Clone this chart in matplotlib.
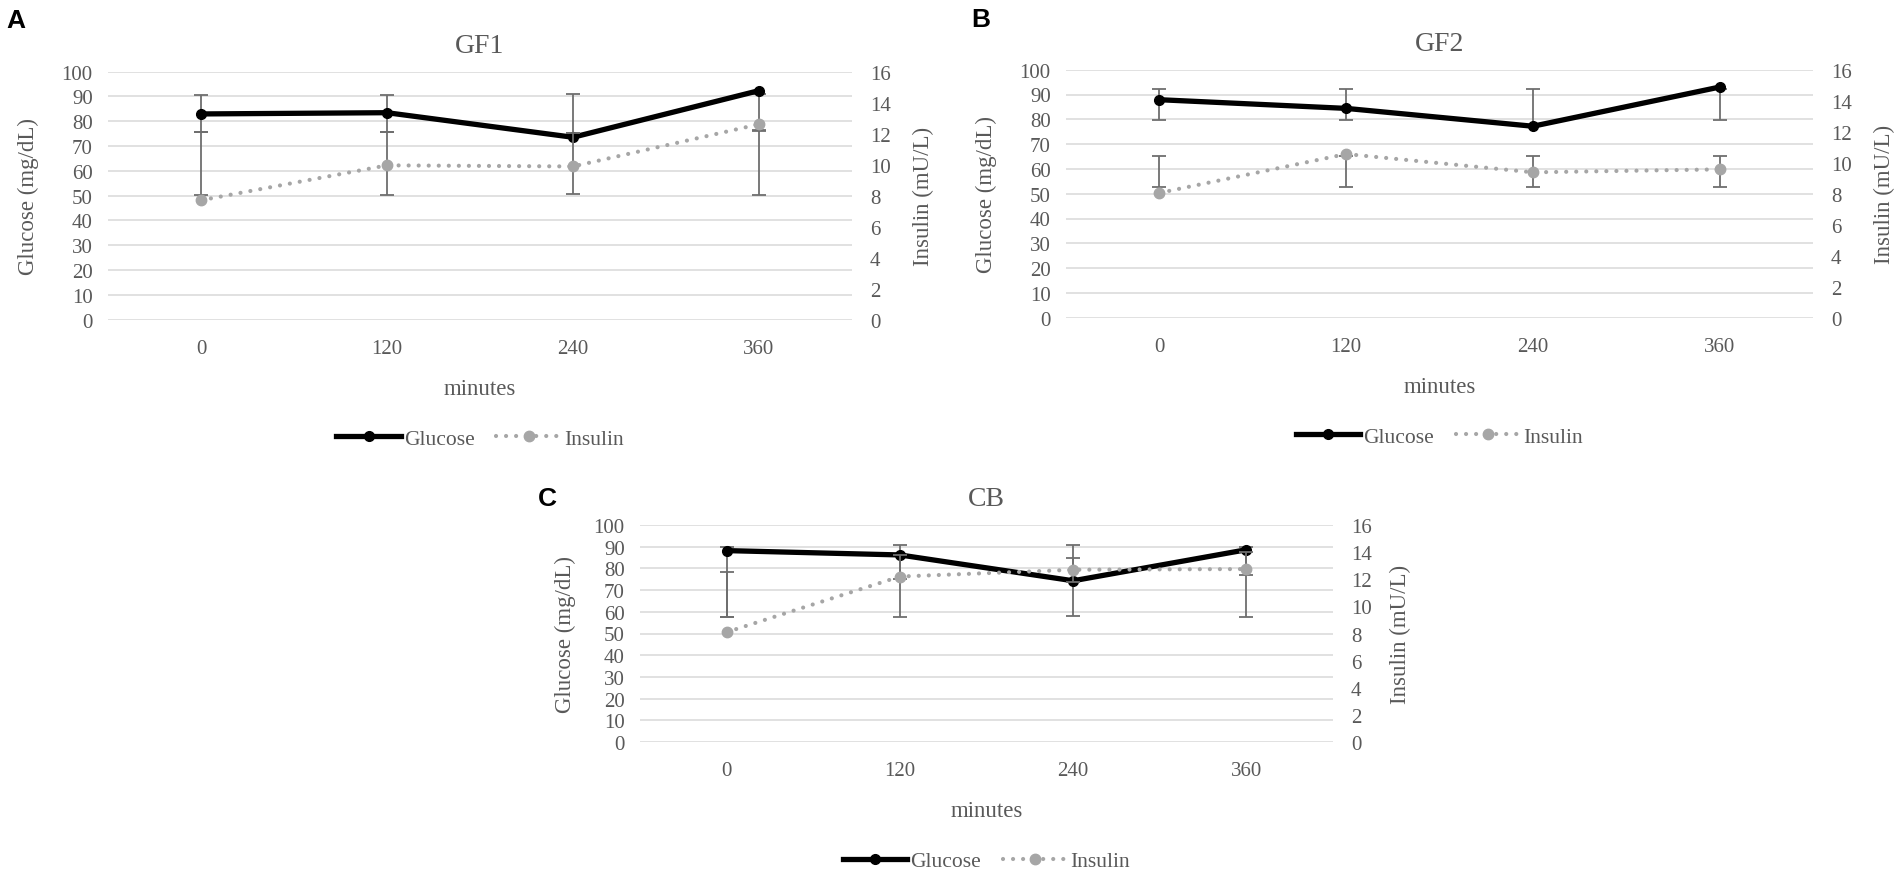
import matplotlib
matplotlib.use("Agg")
import matplotlib.pyplot as plt

# data
minutes = ["0", "120", "240", "360"]

gf1_glucose = [82.9, 83.4, 73.5, 92.3]
gf1_insulin = [7.7, 9.95, 9.88, 12.6]
gf1_glu_lo = [75.6, 75.6, 75.4, 76.2]
gf1_glu_hi = [90.7, 90.7, 90.9, 90.9]
gf1_ins_lo = [8.06, 8.06, 8.1, 8.06]
gf1_ins_hi = [12.1, 12.1, 12.05, 12.2]

gf2_glucose = [87.9, 84.4, 77.2, 93.0]
gf2_insulin = [8.05, 10.56, 9.38, 9.57]
gf2_glu_lo = [79.7, 79.7, 77.6, 79.8]
gf2_glu_hi = [92.2, 92.2, 92.2, 92.2]
gf2_ins_lo = [8.42, 8.42, 8.42, 8.42]
gf2_ins_hi = [10.42, 10.42, 10.42, 10.42]

cb_glucose = [88.2, 86.2, 74.3, 88.6]
cb_insulin = [8.1, 12.2, 12.7, 12.75]
cb_glu_lo = [57.5, 57.7, 57.9, 57.8]
cb_glu_hi = [89.9, 90.8, 90.9, 89.8]
cb_ins_lo = [9.2, 12.0, 11.8, 12.3]
cb_ins_hi = [12.5, 13.8, 13.6, 14.0]

TXT = "#595959"
ERR = "#6e6e6e"
SERIF = ["Liberation Serif", "DejaVu Serif"]
plt.rcParams["font.family"] = SERIF

fig = plt.figure(figsize=(18.94, 8.79), dpi=100)
W, H = 1894, 879


def add_axes(x0, x1, ytop, ybot):
    return fig.add_axes([x0 / W, 1 - ybot / H, (x1 - x0) / W, (ybot - ytop) / H])


def err_bars(ax, x, lo, hi):
    # error bars as drawn in the chart (the range does not always hold the point)
    ax.vlines(x, lo, hi, color=ERR, lw=1.3, zorder=2)
    ax.plot(x, lo, ls="none", marker="_", ms=10, mew=1.3, color=ERR, zorder=2)
    ax.plot(x, hi, ls="none", marker="_", ms=10, mew=1.3, color=ERR, zorder=2)


def draw_panel(ax, letter, title, glucose, insulin, glu_lo, glu_hi, ins_lo, ins_hi, letter_xy):
    h_px = ax.get_position().height * H
    x = list(range(len(minutes)))

    ax.set_xlim(-0.5, len(minutes) - 0.5)
    ax.set_ylim(0, 100)
    ax.set_yticks(range(0, 101, 10))
    ax.set_xticks(x)
    ax.set_xticklabels(minutes)
    ax.grid(axis="y", color="#d9d9d9", lw=1.1)
    ax.set_axisbelow(True)
    for s in ax.spines.values():
        s.set_visible(False)
    ax.tick_params(length=0, labelsize=15, labelcolor=TXT)
    ax.tick_params(axis="y", pad=11)
    ax.tick_params(axis="x", pad=14)

    err_bars(ax, x, glu_lo, glu_hi)
    g_line, = ax.plot(x, glucose, color="black", lw=3.8, marker="o", ms=7, zorder=3,
                      label="Glucose")

    ax2 = ax.twinx()
    ax2.set_ylim(0, 16)
    ax2.set_yticks(range(0, 17, 2))
    for s in ax2.spines.values():
        s.set_visible(False)
    ax2.tick_params(length=0, labelsize=15, labelcolor=TXT, pad=13)
    err_bars(ax2, x, ins_lo, ins_hi)
    i_line, = ax2.plot(x, insulin, color="#a6a6a6", lw=3.0, ls=(0, (0.01, 2.4)),
                       dash_capstyle="round", marker="o", ms=7.5, zorder=3, label="Insulin")

    ax.set_ylabel("Glucose (mg/dL)", fontsize=16.5, color=TXT)
    ax.yaxis.set_label_coords(-0.093, 0.5)
    ax2.set_ylabel("Insulin (mU/L)", fontsize=16.5, color=TXT)
    ax2.yaxis.set_label_coords(1.082, 0.5)
    ax.set_xlabel("minutes", fontsize=16.5, color=TXT)
    ax.xaxis.set_label_coords(0.5, -58 / h_px)

    ax.text(0.5, 1 + 26 / h_px, title, transform=ax.transAxes, ha="center", va="center",
            fontsize=20, color=TXT)
    fig.text(letter_xy[0] / W, 1 - letter_xy[1] / H, letter, fontsize=19, fontweight="bold",
             family=["Liberation Sans", "DejaVu Sans"], ha="center", va="center")

    ax.legend([g_line, i_line], ["Glucose", "Insulin"], loc="center", ncol=2, frameon=False,
              bbox_to_anchor=(0.5, -119 / h_px), fontsize=15.5, labelcolor=TXT,
              handlelength=3.0, handletextpad=0.15, columnspacing=1.0)


axA = add_axes(108, 852, 72.5, 320.7)
axB = add_axes(1066, 1813, 70.7, 318.7)
axC = add_axes(640, 1333, 526, 743)

draw_panel(axA, "A", "GF1", gf1_glucose, gf1_insulin, gf1_glu_lo, gf1_glu_hi,
           gf1_ins_lo, gf1_ins_hi, (16, 21))
draw_panel(axB, "B", "GF2", gf2_glucose, gf2_insulin, gf2_glu_lo, gf2_glu_hi,
           gf2_ins_lo, gf2_ins_hi, (981, 20))
draw_panel(axC, "C", "CB", cb_glucose, cb_insulin, cb_glu_lo, cb_glu_hi,
           cb_ins_lo, cb_ins_hi, (547, 499))

fig.savefig("out.png", dpi=100)
